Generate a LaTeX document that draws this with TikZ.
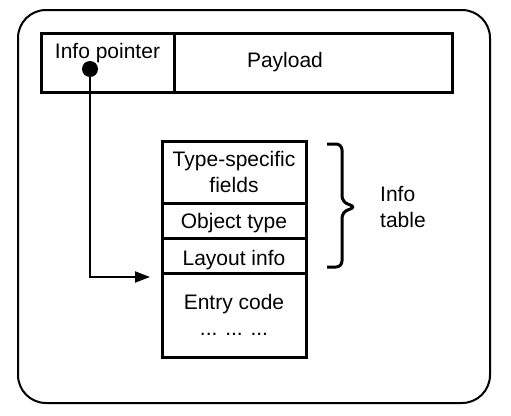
\documentclass[tikz,border=0pt]{standalone}
\usepackage{fontspec}
\setmainfont{Liberation Sans}
\usetikzlibrary{arrows.meta,positioning}
\tikzset{
  frame/.style={draw, line width=2pt, rounded corners=28pt},
  cell/.style={draw, line width=3pt, outer sep=0pt, inner sep=0pt, align=center},
  tblcell/.style={cell, minimum width=144pt},
  ptr/.style={-{Triangle[length=15pt, width=11pt]}, line width=2pt},
  brace/.style={line width=3pt, rounded corners=6pt},
  dot/.style={circle, fill, inner sep=0pt, minimum size=16pt},
  lbl/.style={font=\fontsize{21}{26}\selectfont},
}

\begin{document}
\begin{tikzpicture}[x=1pt, y=-1pt, lbl]
  \useasboundingbox (0,0) rectangle (511,415);
  \draw[frame] (18,10) rectangle (490,403);
  % closure header
  \node[cell, minimum width=133pt, minimum height=59pt, text height=25pt, text depth=34pt]
    (infoptr) at (107.5,62.5) {Info pointer};
  \node[cell, minimum width=278pt, minimum height=59pt, text width=132pt, align=left,
    right=0pt of infoptr] (payload) {Payload};
  \node[dot] (pdot) at (90,69) {};
  % info table and code
  \node[tblcell, minimum height=62pt] (fields) at (234,172) {Type-specific\\fields};
  \node[tblcell, minimum height=35pt, text height=25pt, text depth=10pt,
    below=0pt of fields] (objtype) {Object type};
  \node[tblcell, minimum height=35pt, text height=27pt, text depth=8pt,
    below=0pt of objtype] (layout) {Layout info};
  \node[tblcell, minimum height=84pt, below=0pt of layout] (entry) {Entry code\\... ... ...};
  \coordinate (tip) at (150,277);
  \draw[ptr] (pdot.center) |- (tip);
  % brace round the info table
  \draw[brace] (327,144) -- (342,144) -- (342,202) -- (356,207) -- (342,212) -- (342,267) -- (327,267);
  \node[anchor=west, align=left, inner sep=0pt] (infotbl) at (380,207.5) {Info\\table};
\end{tikzpicture}
\end{document}
